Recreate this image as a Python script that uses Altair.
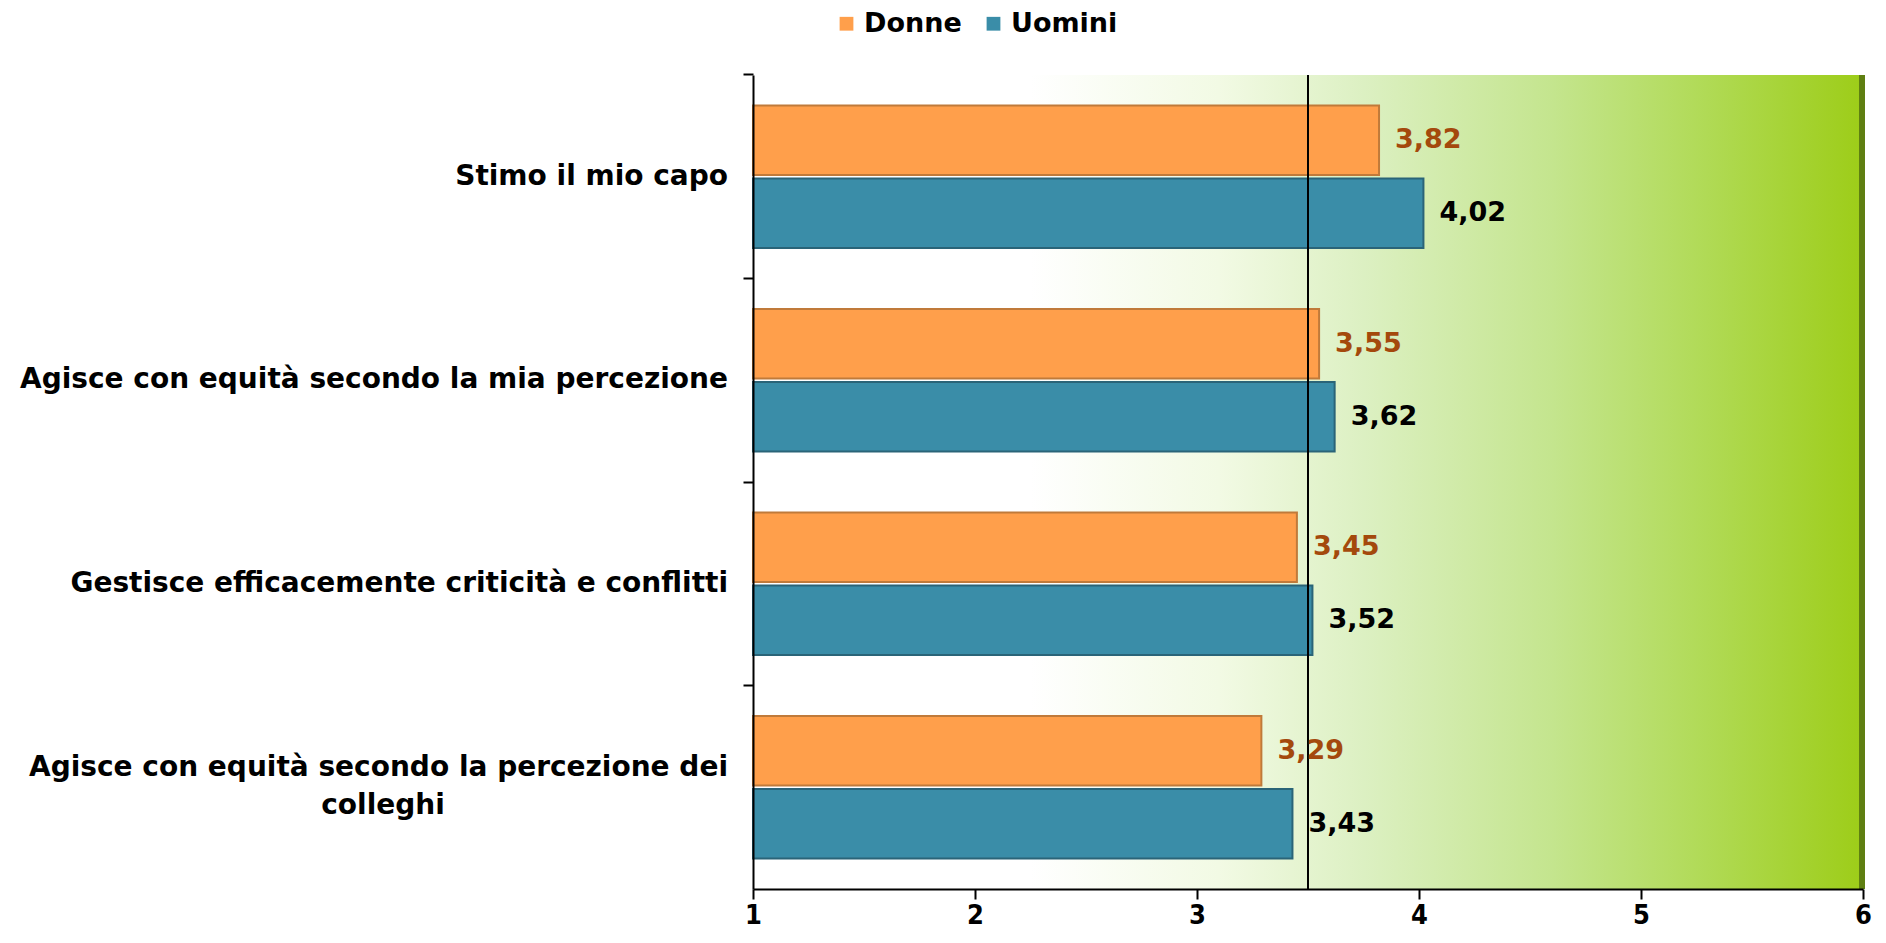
import altair as alt
import pandas as pd

categories = [
    "Stimo il mio capo",
    "Agisce con equità secondo la mia percezione",
    "Gestisce efficacemente criticità e conflitti",
    "Agisce con equità secondo la percezione dei colleghi",
]
series = ["Donne", "Uomini"]
donne = [3.82, 3.55, 3.45, 3.29]
uomini = [4.02, 3.62, 3.52, 3.43]
x_ticks = [1, 2, 3, 4, 5, 6]
reference_value = 3.5

rows = []
for c, d, u in zip(categories, donne, uomini):
    rows.append({"cat": c, "serie": "Donne", "value": d})
    rows.append({"cat": c, "serie": "Uomini", "value": u})
df = pd.DataFrame(rows)

P_IN, P_OUT = 0.3, 0.15
ysc = alt.Scale(domain=categories, paddingInner=P_IN, paddingOuter=P_OUT)
xsc = alt.Scale(domain=[1, 6], nice=False, zero=False)
color_scale = alt.Scale(domain=series, range=["#FF9F4B", "#3A8DA8"])

x_axis = alt.Axis(
    values=x_ticks,
    grid=False,
    labelFont="DejaVu Sans Condensed",
    labelFontWeight="bold",
    labelFontSize=27,
    labelColor="black",
    labelPadding=3,
    labelFlush=False,
    tickSize=10,
    tickColor="black",
    tickWidth=2,
    domainColor="black",
    domainWidth=2,
    zindex=2,
)
y_axis = alt.Axis(
    labels=False,
    bandPosition=-(P_IN / 2) / (1 - P_IN),
    grid=False,
    tickSize=10,
    tickColor="black",
    tickWidth=2,
    domainColor="black",
    domainWidth=2,
    zindex=2,
)

wall = alt.Chart(pd.DataFrame({"a": [x_ticks[0]], "b": [x_ticks[-1]]})).mark_rect(
    color=alt.LinearGradient(
        gradient="linear",
        x1=0, x2=1, y1=0, y2=0,
        stops=[
            alt.GradientStop(offset=0.0, color="#FFFFFF"),
            alt.GradientStop(offset=0.25, color="#FFFFFF"),
            alt.GradientStop(offset=0.42, color="#F2FAE4"),
            alt.GradientStop(offset=0.55, color="#DCF0C2"),
            alt.GradientStop(offset=0.72, color="#C4E58E"),
            alt.GradientStop(offset=0.86, color="#B0DA55"),
            alt.GradientStop(offset=1.0, color="#9DCD18"),
        ],
    )
).encode(
    x=alt.X("a:Q", scale=xsc, axis=x_axis, title=None),
    x2="b:Q",
)

wall_edge = alt.Chart(pd.DataFrame({"b": [x_ticks[-1]]})).mark_rule(
    color="#5F7F12", strokeWidth=6
).encode(x=alt.X("b:Q", scale=xsc, axis=x_axis, title=None), xOffset=alt.value(-1))

bars = alt.Chart(df).mark_bar(strokeWidth=2).encode(
    y=alt.Y("cat:N", scale=ysc, sort=categories, title=None, axis=y_axis),
    yOffset=alt.YOffset("serie:N", sort=series, scale=alt.Scale(paddingInner=0.05)),
    x=alt.X("value:Q", scale=xsc, title=None, axis=x_axis),
    x2=alt.datum(1),
    color=alt.Color(
        "serie:N",
        scale=color_scale,
        sort=series,
        title=None,
        legend=alt.Legend(
            orient="none",
            direction="horizontal",
            legendX=80,
            legendY=-65,
            symbolType="square",
            symbolSize=190,
            symbolStrokeWidth=0,
            labelFont="DejaVu Sans",
            labelFontWeight="bold",
            labelFontSize=27,
            labelColor="black",
            columnPadding=18,
            labelOffset=4,
        ),
    ),
    stroke=alt.Stroke(
        "serie:N",
        scale=alt.Scale(domain=series, range=["#C07A3A", "#2A6478"]),
        legend=None,
    ),
)

value_labels = alt.Chart(df).transform_calculate(
    lab="replace(format(datum.value, '.2f'), '.', ',')"
).mark_text(
    align="left", baseline="middle", dx=16, font="DejaVu Sans",
    fontWeight="bold", fontSize=27,
).encode(
    y=alt.Y("cat:N", scale=ysc, sort=categories, title=None, axis=y_axis),
    yOffset=alt.YOffset("serie:N", sort=series, scale=alt.Scale(paddingInner=0.05)),
    x=alt.X("value:Q", scale=xsc, title=None, axis=x_axis),
    text="lab:N",
    color=alt.Color(
        "serie:N",
        scale=alt.Scale(domain=series, range=["#A4490C", "#000000"]),
        legend=None,
    ),
)

ref_rule = alt.Chart(pd.DataFrame({"v": [reference_value]})).mark_rule(
    color="black", strokeWidth=2
).encode(x=alt.X("v:Q", scale=xsc, title=None, axis=x_axis))

FS = 28
single = pd.DataFrame({"cat": categories[:3]})
cat_text = alt.Chart(single).mark_text(
    align="right", baseline="middle", font="DejaVu Sans", fontWeight="bold",
    fontSize=FS, color="black",
).encode(
    y=alt.Y("cat:N", scale=ysc, sort=categories, title=None, axis=y_axis),
    x=alt.value(-25),
    text="cat:N",
)

last_cat = categories[3]
line1 = pd.DataFrame({"cat": [last_cat], "t": ["Agisce con equità secondo la percezione dei"]})
line2 = pd.DataFrame({"cat": [last_cat], "t": ["colleghi"]})
cat_text2a = alt.Chart(line1).mark_text(
    align="right", baseline="middle", font="DejaVu Sans", fontWeight="bold",
    fontSize=FS, color="black", dy=-19,
).encode(
    y=alt.Y("cat:N", scale=ysc, sort=categories, title=None, axis=y_axis),
    x=alt.value(-25),
    text="t:N",
)
cat_text2b = alt.Chart(line2).mark_text(
    align="center", baseline="middle", font="DejaVu Sans", fontWeight="bold",
    fontSize=FS, color="black", dy=19,
).encode(
    y=alt.Y("cat:N", scale=ysc, sort=categories, title=None, axis=y_axis),
    x=alt.value(-370),
    text="t:N",
)

chart = alt.layer(
    wall, wall_edge, bars, ref_rule, value_labels, cat_text, cat_text2a, cat_text2b
).resolve_scale(color="independent", stroke="independent").properties(
    width=1110,
    height=814,
    background="white",
    padding={"left": 745, "top": 67, "right": 15, "bottom": 46},
    autosize=alt.AutoSizeParams(type="none"),
).configure_view(stroke=None)

chart.save("out.html", embed_options={"renderer": "svg", "actions": False})
